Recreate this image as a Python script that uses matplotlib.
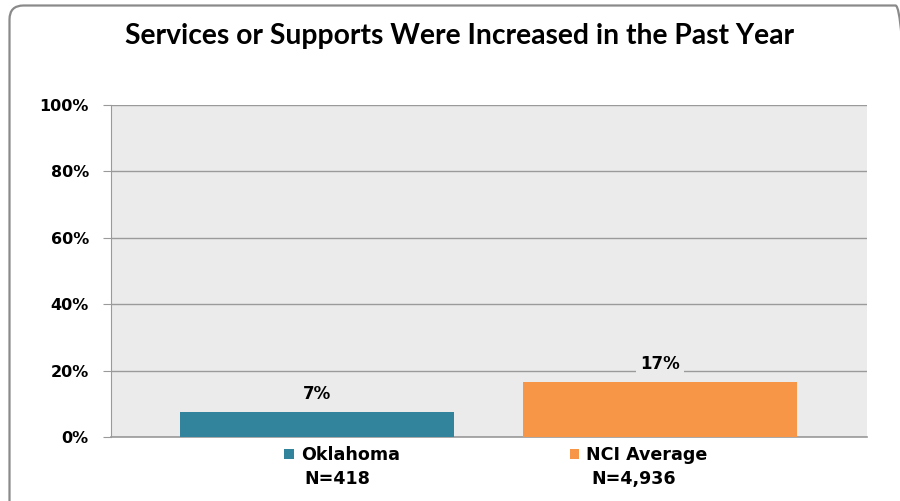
import matplotlib
matplotlib.use("Agg")
import matplotlib.pyplot as plt
from matplotlib.patches import FancyBboxPatch, Patch

plt.rcParams['font.family'] = ['DejaVu Sans']

title = "Services or Supports Were Increased in the Past Year"
categories = ["Oklahoma", "NCI Average"]
values = [7.5, 16.7]
value_labels = ["7%", "17%"]
n_labels = ["N=418", "N=4,936"]
colors = ["#31849B", "#F79646"]
yticks = [0, 20, 40, 60, 80, 100]
ytick_labels = ["0%", "20%", "40%", "60%", "80%", "100%"]

W, H = 900, 501
BG = "#EBEBEB"
fig = plt.figure(figsize=(W / 100, H / 100), dpi=100)

# rounded frame
frame = FancyBboxPatch((9.5, -20), 900, 515.5, boxstyle="round,pad=0,rounding_size=14",
                       transform=None, facecolor="none", edgecolor="#8a8a8a", lw=1.6)
fig.patches.append(frame)

ax = fig.add_axes([111 / W, 1 - 437 / H, (866.7 - 111) / W, (437 - 105) / H])
ax.set_facecolor(BG)
x = list(range(len(categories)))
bars = ax.bar(x, values, width=0.8, color=colors, zorder=3)
ax.set_xlim(-0.602, 1.603)
ax.set_ylim(0, 100)
ax.set_yticks(yticks)
ax.set_yticklabels(ytick_labels, fontsize=11.5, fontweight="bold")
ax.set_xticks([])
ax.grid(axis="y", color="#9a9a9a", lw=1.0, zorder=1)
for s in ["top", "right"]:
    ax.spines[s].set_visible(False)
ax.spines["left"].set_color("#9a9a9a")
ax.spines["bottom"].set_color("#9a9a9a")
ax.spines["bottom"].set_linewidth(1.2)
ax.tick_params(axis="y", length=6, color="#9a9a9a", pad=10)

for i, (v, lab) in enumerate(zip(values, value_labels)):
    ax.annotate(lab, (x[i], v), xytext=(0, 13), textcoords="offset points",
                ha="center", va="center", fontsize=12, fontweight="bold",
                bbox=dict(facecolor=BG, edgecolor="none", pad=3),
                zorder=4)

fig.text(460 / W, 1 - 36 / H, title, ha="center", va="center", fontsize=20.3,
         fontweight="bold", family=["Lato", "DejaVu Sans"])

handles = [Patch(facecolor=c, edgecolor="none") for c in colors]
leg = fig.legend(handles, categories, loc="center", bbox_to_anchor=(496 / W, 1 - 455 / H),
                 ncol=2, frameon=False, prop=dict(weight="bold", size=12.6),
                 handlelength=0.55, handleheight=0.55, handletextpad=0.4, columnspacing=9.7)

n_x = [337.5, 634]
for xi, nl in zip(n_x, n_labels):
    fig.text(xi / W, 1 - 479 / H, nl, ha="center", va="center", fontsize=12.6, fontweight="bold")

fig.savefig("out.png", dpi=100)
